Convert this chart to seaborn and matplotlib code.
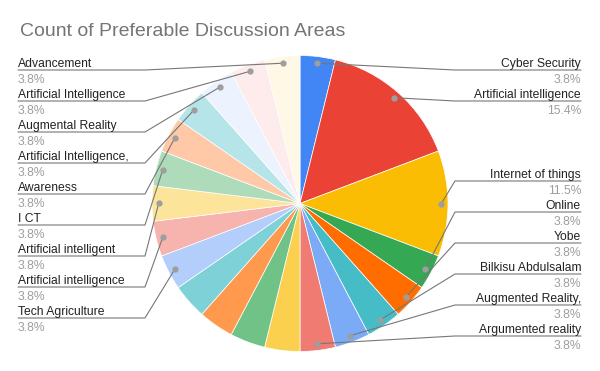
import numpy as np
import matplotlib.pyplot as plt
import seaborn as sns

# slices in clockwise order from 12 o'clock; "" = slice without a visible label
areas = ["Cyber Security", "Artificial intelligence", "Internet of things", "Online",
         "Yobe", "Bilkisu Abdulsalam", "Augmented Reality,", "Argumented reality",
         "", "", "", "",
         "Tech Agriculture", "Artificial intelligence", "Artificial intelligent", "I CT",
         "Awareness", "Artificial Intelligence,", "Augmental Reality",
         "Artificial Intelligence", "Advancement"]
counts = [1, 4, 3, 1, 1, 1, 1, 1, 1, 1, 1, 1, 1, 1, 1, 1, 1, 1, 1, 1, 1]
colors = ["#4285f4", "#ea4335", "#fbbc04", "#34a853", "#ff6d01", "#46bdc6", "#7baaf7",
          "#f07b72", "#fcd04f", "#71c287", "#ff994d", "#7ed1d7", "#b3cefb", "#f7b4ae",
          "#fde49b", "#aedcba", "#ffc8a6", "#b5e5e8", "#ecf3fe", "#fdeceb", "#fff8e6"]
title = "Count of Preferable Discussion Areas"

# label layout (pixel rows of the underline, top to bottom)
right_rows = [70, 101, 181, 212, 243, 274, 305, 336]
left_rows = [70, 101, 132, 163, 194, 225, 256, 287, 318]

sns.set_theme(style="white")
plt.rcParams['font.family'] = ['Liberation Sans', 'DejaVu Sans']

W, H = 600, 371
fig = plt.figure(figsize=(6, 3.71), dpi=100)
fig.patch.set_facecolor('white')
cx, cy, r = 300, 203.5, 148
ax = fig.add_axes([(cx - r) / W, 1 - (cy + r) / H, 2 * r / W, 2 * r / H])
wedges, _ = ax.pie(counts, colors=colors, startangle=90, counterclock=False,
                   wedgeprops=dict(linewidth=0.5, edgecolor='white'))
ax.set_xlim(-1, 1)
ax.set_ylim(-1, 1)

ov = fig.add_axes([0, 0, 1, 1], zorder=5)
ov.set_xlim(0, W)
ov.set_ylim(H, 0)
ov.axis('off')
ov.patch.set_alpha(0)

total = sum(counts)
labelled = [i for i, a in enumerate(areas) if a]
right = [i for i in labelled if np.cos(np.deg2rad((wedges[i].theta1 + wedges[i].theta2) / 2)) > 0]
left = [i for i in labelled if i not in right][::-1]

for idxs, rows, side in [(right, right_rows, 'right'), (left, left_rows, 'left')]:
    for i, uy in zip(idxs, rows):
        w = wedges[i]
        mid = np.deg2rad((w.theta1 + w.theta2) / 2)
        px = cx + 0.955 * r * np.cos(mid)
        py = cy - 0.955 * r * np.sin(mid)
        if side == 'right':
            tx, ex, ha = 581, 455, 'right'
        else:
            tx, ex, ha = 18, 145, 'left'
        ov.plot([tx, ex, px], [uy, uy, py], color='#777777', lw=0.8)
        ov.plot(px, py, 'o', color='#9e9e9e', ms=3.5)
        ov.text(tx, uy - 3, areas[i], ha=ha, va='baseline', fontsize=8.7, color='#222222')
        ov.text(tx, uy + 13, f"{counts[i] / total * 100:.1f}%", ha=ha, va='baseline',
                fontsize=8.7, color='#9e9e9e')

fig.text(20 / W, 1 - 31 / H, title, fontsize=14, color='#757575', va='center', ha='left')

fig.savefig('out.png', dpi=100, facecolor='white')
